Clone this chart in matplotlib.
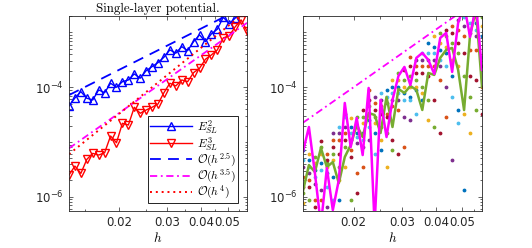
import numpy as np
import matplotlib
matplotlib.use("Agg")
import matplotlib.pyplot as plt
from matplotlib.ticker import FixedLocator, NullFormatter

plt.rcParams['mathtext.fontset'] = 'cm'

# ---- data ----
h = [0.01306, 0.01373, 0.01444, 0.01519, 0.01597, 0.01679, 0.01766, 0.01857,
     0.01952, 0.02053, 0.02159, 0.02270, 0.02387, 0.02510, 0.02639, 0.02775,
     0.02918, 0.03068, 0.03226, 0.03393, 0.03567, 0.03751, 0.03945, 0.04148,
     0.04361, 0.04586, 0.04823, 0.05071, 0.05332, 0.05607, 0.05896]

# log10 of errors
E2_log = [-4.342, -4.196, -4.080, -4.201, -4.232, -4.049, -4.099, -3.927, -4.000,
          -3.898, -3.867, -3.757, -3.835, -3.697, -3.623, -3.550, -3.452, -3.318,
          -3.378, -3.258, -3.331, -3.166, -3.044, -3.166, -3.026, -2.940, -2.720,
          -2.843, -2.739, -2.60, -2.55]
E3_log = [-5.603, -5.439, -5.573, -5.316, -5.207, -5.238, -5.195, -4.890, -5.013,
          -4.658, -4.689, -4.366, -4.475, -4.415, -4.366, -4.305, -4.099, -3.927,
          -3.976, -3.867, -3.898, -3.733, -3.653, -3.488, -3.410, -3.318, -3.099,
          -3.062, -2.898, -2.770, -2.971]

# reference slopes / constants at the smallest h
ref_orders = [2.5, 3.5, 4.0]
ref_left_at_h0 = [7.2e-5, 7.67e-6, 6.0e-6]
ref_right_at_h0 = 2.25e-5

# right panel
mag_log = [-5.177, -4.726, -5.567, -6.517, -5.475, -6.243, -5.695, -4.287, -5.091,
           -4.561, -5.238, -4.013, -6.517, -4.232, -4.909, -4.232, -3.793, -3.629,
           -3.958, -3.464, -3.373, -3.501, -3.757, -3.099, -3.007, -3.720, -2.825,
           -2.495, -3.080, -2.495, -3.684]
grn_log = [-5.896, -5.420, -5.548, -5.110, -5.457, -5.366, -5.750, -5.274, -5.055,
           -4.689, -4.909, -4.470, -4.506, -4.835, -4.177, -4.726, -4.031, -4.104,
           -3.976, -4.049, -4.415, -3.739, -3.775, -3.464, -3.318, -3.282, -3.684,
           -4.417, -3.044, -2.587, -3.995]

dots_blue = [-5.15, -5.33, -5.51, -5.39, -5.57, -5.63, -6.06, -4.48, -4.72, -4.84,
             -4.84, -4.60, -4.84, -5.15, -4.05, -3.99, -3.99, -4.11, -4.17, -4.05,
             -4.23, -3.19, -3.26, -3.32, -3.38, -3.80, -4.41, -5.88, -2.65, -2.83, -3.07]
dots_orange = [-5.63, -5.70, -6.06, -6.06, -5.21, -4.96, -4.96, -4.84, -5.15, -5.57,
               -5.45, -4.05, -4.29, -4.35, -4.48, -4.35, -4.41, -5.09, -3.44, -3.62,
               -3.62, -3.62, -3.62, -3.87, -4.54, -2.89, -2.95, -3.07, -3.32, -3.32, -3.99]
dots_yellow = [-6.12, -5.21, -5.39, -5.21, -5.45, -5.33, -5.70, -5.45, -4.57, -4.72,
               -4.66, -4.48, -4.66, -4.96, -5.45, -3.87, -3.87, -3.99, -3.99, -3.99,
               -4.11, -4.60, -3.07, -3.19, -3.26, -3.50, -3.62, -4.48, -4.84, -2.71, -2.89]
dots_purple = [-5.45, -5.57, -5.76, -5.88, -6.18, -4.84, -4.84, -4.72, -4.96, -5.02,
               -5.09, -4.96, -4.17, -4.23, -4.29, -4.23, -4.23, -4.54, -4.60, -3.50,
               -3.50, -3.50, -3.50, -3.62, -3.99, -5.33, -2.77, -2.89, -3.01, -3.07, -3.62]
dots_green = [-5.94, -6.06, -5.27, -5.09, -5.39, -5.21, -5.45, -5.09, -6.06, -4.54,
              -4.54, -4.35, -4.54, -4.72, -4.84, -5.15, -3.74, -3.87, -3.80, -3.87,
              -3.99, -4.23, -4.72, -3.01, -3.07, -3.19, -3.38, -3.80, -4.17, -4.41, -2.71]
dots_lblue = [-5.33, -5.45, -5.63, -5.51, -5.82, -6.06, -4.72, -4.54, -4.84, -4.90,
              -4.96, -4.72, -5.21, -4.11, -4.17, -4.11, -4.11, -4.23, -4.23, -4.48,
              -3.38, -3.38, -3.38, -3.50, -3.62, -4.17, -4.66, -2.71, -2.83, -2.95, -3.44]
dots_dred = [-5.82, -5.82, -6.18, -4.99, -5.33, -5.09, -5.21, -4.96, -5.27, -5.94,
             -4.41, -4.23, -4.41, -4.48, -4.54, -4.96, -5.21, -3.68, -3.62, -3.74,
             -3.74, -3.80, -4.23, -4.84, -2.95, -3.01, -3.19, -3.38, -3.80, -3.87, -4.48]

dot_series = [dots_blue, dots_orange, dots_yellow, dots_purple, dots_green, dots_lblue, dots_dred]
dot_colors = ['#0072BD', '#D95319', '#EDB120', '#7E2F8E', '#77AC30', '#4DBEEE', '#A2142F']

xticks = [0.02, 0.03, 0.04, 0.05]
xticklabels = ['0.02', '0.03', '0.04', '0.05']
yticks_labeled = [1e-6, 1e-4]
title = 'Single-layer potential.'

# ---- figure ----
h_arr = np.array(h)
fig = plt.figure(figsize=(5.32, 2.48), dpi=100)
axL = fig.add_axes([0.1297, 0.1492, 0.3346, 0.7863])
axR = fig.add_axes([0.5695, 0.1492, 0.3365, 0.7863])

tc = '#262626'

def style(ax):
    ax.set_xscale('log')
    ax.set_yscale('log')
    ax.set_xlim(h[0], h[-1])
    ax.set_ylim(5.5e-7, 2.0e-3)
    ax.xaxis.set_major_locator(FixedLocator(xticks))
    ax.set_xticklabels(xticklabels)
    ax.xaxis.set_minor_locator(FixedLocator([0.015, 0.025, 0.035, 0.045, 0.055]))
    ax.xaxis.set_minor_formatter(NullFormatter())
    ax.yaxis.set_major_locator(FixedLocator(yticks_labeled))
    ax.set_yticklabels([r'$10^{-6}$', r'$10^{-4}$'])
    minors = [m * 10.0**e for e in range(-7, -2) for m in range(1, 10)]
    minors = [v for v in minors if v not in (1e-6, 1e-4)]
    ax.yaxis.set_minor_locator(FixedLocator(minors))
    ax.yaxis.set_minor_formatter(NullFormatter())
    ax.tick_params(which='both', direction='in', top=True, right=True, colors=tc,
                   labelsize=8.5, width=0.5)
    ax.tick_params(which='major', length=3)
    ax.tick_params(which='minor', length=1.8)
    for lab in ax.get_yticklabels():
        lab.set_math_fontfamily('dejavusans')
    for s in ax.spines.values():
        s.set_color(tc)
        s.set_linewidth(0.6)
    ax.set_xlabel(r'$h$', fontsize=9.5, labelpad=1.5, color='black')

# left panel
E2 = 10.0 ** np.array(E2_log)
E3 = 10.0 ** np.array(E3_log)
axL.plot(h_arr, E2, '-', color='blue', lw=1.0, marker='^', ms=5.5, mfc='none',
         mec='blue', mew=1.0, label=r'$E_{SL}^{2}$')
axL.plot(h_arr, E3, '-', color='red', lw=1.0, marker='v', ms=5.5, mfc='none',
         mec='red', mew=1.0, label=r'$E_{SL}^{3}$')
styles = [dict(color='blue', ls=(0, (6, 4)), lw=1.3),
          dict(color='magenta', ls=(0, (4, 2, 1, 2)), lw=1.3),
          dict(color='red', ls=(0, (1, 2)), lw=1.4)]
labels = [r'$\mathcal{O}(h^{2.5})$', r'$\mathcal{O}(h^{3.5})$', r'$\mathcal{O}(h^{4})$']
for p, c0, st, lab in zip(ref_orders, ref_left_at_h0, styles, labels):
    axL.plot(h_arr, c0 * (h_arr / h[0]) ** p, label=lab, **st)
style(axL)
axL.set_title(title, fontsize=9.3, family='cmr10', pad=3)
leg = axL.legend(loc='lower left', bbox_to_anchor=(0.445, 0.04), fontsize=8.5,
                 fancybox=False, edgecolor='black', framealpha=1,
                 handlelength=3.6, borderpad=0.15, labelspacing=-0.1,
                 handletextpad=0.4, borderaxespad=0)
leg.get_frame().set_linewidth(0.6)

# right panel
for ser, col in zip(dot_series, dot_colors):
    axR.plot(h_arr, 10.0 ** np.array(ser), '.', color=col, ms=3.5, ls='none')
axR.plot(h_arr, ref_right_at_h0 * (h_arr / h[0]) ** 3.5, color='magenta',
         ls=(0, (4, 2, 1, 2)), lw=1.3)
axR.plot(h_arr, 10.0 ** np.array(grn_log), '-', color='#77AC30', lw=1.8)
axR.plot(h_arr, 10.0 ** np.array(mag_log), '-', color='magenta', lw=1.8)
style(axR)

fig.savefig('out.png', dpi=100)
